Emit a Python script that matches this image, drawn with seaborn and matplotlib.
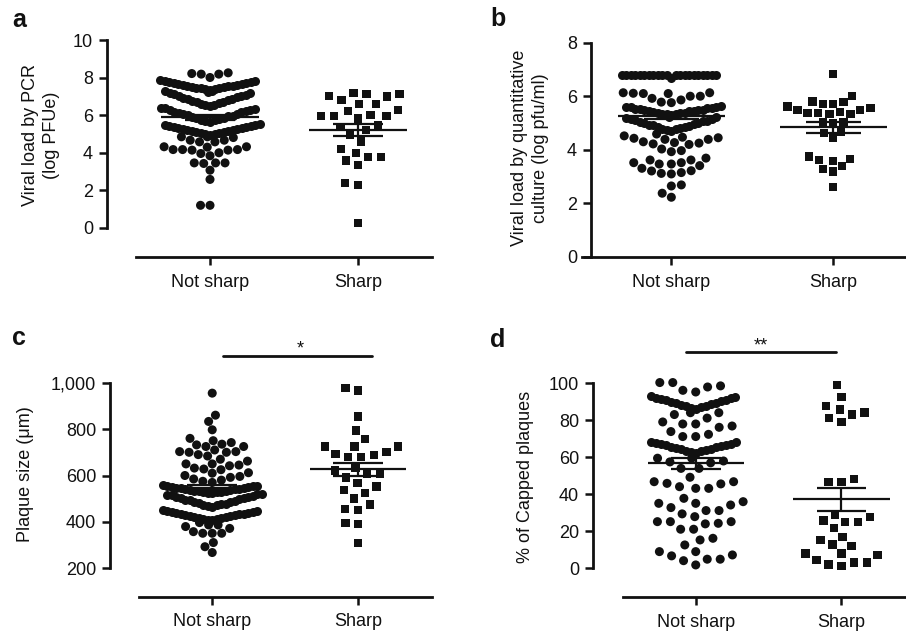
import numpy as np
import pandas as pd
import matplotlib
matplotlib.use("Agg")
import matplotlib.pyplot as plt
import seaborn as sns
from matplotlib.ticker import FuncFormatter

sns.set_theme(style="ticks")
plt.rcParams["font.family"] = ["Liberation Sans", "DejaVu Sans"]

categories = ["Not sharp", "Sharp"]

# ---------------- panel a : viral load by PCR ----------------
a_ns_band1 = [7.37, 7.39, 7.41, 7.43, 7.45, 7.47, 7.49, 7.51, 7.54, 7.56, 7.58,
              7.61, 7.63, 7.65, 7.68, 7.70, 7.73, 7.75, 7.78, 7.81, 7.84, 7.87]
a_ns_band2 = [6.48, 6.52, 6.56, 6.60, 6.64, 6.68, 6.72, 6.76, 6.80, 6.84, 6.88,
              6.92, 6.96, 7.00, 7.04, 7.08, 7.12, 7.16, 7.20, 7.24, 7.27, 7.30]
a_ns_band3 = [5.65, 5.69, 5.72, 5.76, 5.79, 5.83, 5.86, 5.90, 5.94, 5.97, 6.01,
              6.04, 6.08, 6.12, 6.15, 6.19, 6.22, 6.26, 6.30, 6.33, 6.37, 6.40]
a_ns_band4 = [4.95, 4.98, 5.00, 5.03, 5.06, 5.08, 5.11, 5.14, 5.16, 5.19, 5.22,
              5.24, 5.27, 5.30, 5.33, 5.35, 5.38, 5.41, 5.44, 5.46, 5.49, 5.52]
a_ns_rest = [8.26, 8.19, 8.01, 8.19, 8.22,
             4.85, 4.81, 4.67, 4.58, 4.58, 4.67, 4.85,
             4.32, 4.30, 4.32, 4.17, 4.14, 3.96, 3.84, 4.00, 4.14, 4.17, 4.17,
             3.46, 3.43, 3.46, 3.46,
             3.07, 2.58, 1.20, 1.20]
a_sharp = [7.13, 7.02, 6.81, 6.60, 6.60, 6.99, 7.13, 7.20,
           6.24, 5.96, 5.96, 5.83, 5.96, 6.01, 6.28,
           5.39, 5.45, 5.21, 4.95, 4.60,
           4.00, 3.76, 3.35, 3.58, 3.76, 4.19,
           2.38, 2.29, 0.25]
a_mean = [5.88, 5.20]
a_sem = [0.12, 0.32]

# ---------------- panel b : viral load by culture ----------------
b_ns_band1 = [6.67, 6.80, 6.80, 6.80, 6.80, 6.80, 6.80, 6.80, 6.80, 6.80, 6.80,
              6.80, 6.80, 6.80, 6.80, 6.80, 6.80, 6.80, 6.80, 6.80, 6.80, 6.80]
b_ns_band2 = [5.30, 5.32, 5.33, 5.35, 5.36, 5.38, 5.39, 5.41, 5.43, 5.44, 5.46,
              5.47, 5.49, 5.50, 5.52, 5.54, 5.55, 5.57, 5.58, 5.60, 5.61, 5.63]
b_ns_band3 = [4.71, 4.74, 4.76, 4.79, 4.81, 4.84, 4.86, 4.89, 4.91, 4.94, 4.96,
              4.99, 5.01, 5.04, 5.06, 5.09, 5.11, 5.14, 5.16, 5.19, 5.21, 5.24]
b_ns_rest = [6.13, 6.11, 6.10, 6.00, 5.86, 5.76, 5.78, 5.92, 6.00, 6.10, 6.13,
             4.59, 4.47, 4.43, 4.39, 4.30, 4.25, 4.20, 4.22, 4.27, 4.39, 4.45, 4.52,
             3.93, 3.97, 4.03,
             3.69, 3.62, 3.62,
             3.52, 3.47, 3.31, 3.22, 3.12, 3.10, 3.15, 3.21, 3.41, 3.47, 3.52,
             2.65, 2.69, 2.23, 2.38]
b_sharp = [6.83, 6.00, 5.80, 5.38, 5.72, 5.33, 5.55, 5.49, 5.49,
           5.62, 5.34, 5.72, 5.38, 5.78, 5.42,
           5.05, 4.99, 5.05, 4.62, 4.43, 4.68,
           3.65, 3.59, 3.75, 3.28, 3.19, 3.40, 3.62, 2.60]
b_mean = [5.26, 4.84]
b_sem = [0.11, 0.20]

# ---------------- panel c : plaque size ----------------
c_ns_band1 = [525, 526, 528, 529, 531, 532, 534, 535, 537, 539, 540,
              542, 543, 545, 547, 548, 550, 551, 553, 555, 556, 558]
c_ns_band2 = [466, 469, 471, 474, 477, 479, 482, 485, 487, 490, 493,
              495, 498, 501, 503, 506, 509, 511, 514, 517, 519, 522]
c_ns_band3 = [408, 410, 412, 414, 416, 418, 420, 422, 424, 426, 428,
              430, 432, 434, 436, 438, 440, 442, 444, 446, 449, 452]
c_ns_rest = [955, 860, 833, 797, 760,
             742, 732, 725, 703, 700, 700, 703, 710, 725, 735, 750,
             684, 662, 650, 642, 645, 650, 670, 690,
             632, 625, 610, 600, 592, 596, 612, 628,
             585, 580, 575, 570,
             397, 387, 380, 372, 358, 351, 351, 351, 387,
             311, 293, 268]
c_sharp = [967, 977, 854, 794, 756,
           725, 725, 693, 679, 679, 689, 700, 725,
           631, 606, 592, 606, 621,
           569, 537, 526, 552, 501,
           475, 451, 455, 396, 390, 309]
c_mean = [548, 627]
c_sem = [10, 28]

# ---------------- panel d : % capped plaques ----------------
d_ns_band1 = [86.3, 86.7, 87.1, 87.5, 87.9, 88.3, 88.7, 89.1, 89.5,
              89.9, 90.3, 90.7, 91.1, 91.5, 91.9, 92.3, 92.7, 93.1]
d_ns_band2 = [62.5, 62.9, 63.2, 63.6, 63.9, 64.3, 64.6, 65.0, 65.3,
              65.7, 66.0, 66.4, 66.7, 67.1, 67.4, 67.8, 68.1, 68.5]
d_ns_rest = [100.4, 98.6, 96.2, 95.3, 98.0, 100.4,
             84.1, 81.2, 79.1, 83.1, 84.1,
             78.0, 76.2, 72.4, 71.2, 71.2, 73.9, 76.9, 78.0,
             59.5, 57.5, 57.0, 54.0, 54.0, 59.5, 58.0,
             49.2, 46.8, 43.2, 45.6, 44.1, 45.9, 43.2, 46.8,
             35.1, 34.2, 31.2, 36.0, 37.8, 29.4, 31.2, 32.8, 35.1,
             25.2, 25.2, 24.3, 21.1, 21.1, 24.0, 25.2, 27.9,
             15.3, 16.2, 12.6,
             7.2, 4.9, 9.0, 9.0, 1.8, 4.1, 4.9, 6.7]
d_sharp = [98.9, 92.6, 87.7, 85.9, 84.2, 83.1, 79.1, 81.2,
           46.7, 46.7, 48.1,
           27.7, 25.0, 21.8, 25.0, 25.9, 29.0,
           16.9, 12.8, 12.1, 15.1,
           7.9, 4.3, 3.1, 1.2, 2.0, 3.1, 7.0, 7.9]
d_mean = [56.8, 37.3]
d_sem = [3.0, 6.2]

a_ticks = [0, 2, 4, 6, 8, 10]
b_ticks = [0, 2, 4, 6, 8]
c_ticks = [200, 400, 600, 800, 1000]
d_ticks = [0, 20, 40, 60, 80, 100]

a_label = "Viral load by PCR\n(log PFUe)"
b_label = "Viral load by quantitative\nculture (log pfu/ml)"
c_label = "Plaque size (\u03bcm)"
d_label = "% of Capped plaques"

W, H = 906, 634
fig = plt.figure(figsize=(W / 100, H / 100), dpi=100)
INK = "#111111"
FS = 13
band_colls = []


def add_axes(left, right, top, bottom):
    return fig.add_axes([left / W, 1 - bottom / H, (right - left) / W, (bottom - top) / H])


def panel(ax, bands, ns_rest, sh, means, sems, xlim, ylim, ybounds, xbounds,
          yticks, ns_pad=0.0, sh_pad=2.9, fmt=None):
    # dense rows of the "Not sharp" group, each laid out as its own swarm
    for vals in bands:
        n0 = len(ax.collections)
        sns.swarmplot(x=["Not sharp"] * len(vals), y=vals, order=categories,
                      marker="o", color=INK, size=6.5, linewidth=0, ax=ax,
                      warn_thresh=1)
        band_colls.extend(c for c in ax.collections[n0:] if "draw" in c.__dict__)
    # remaining "Not sharp" points
    sns.swarmplot(x=["Not sharp"] * len(ns_rest), y=ns_rest, order=categories,
                  marker="o", color=INK, size=6.5, linewidth=ns_pad,
                  edgecolor="none", ax=ax, warn_thresh=1)
    # "Sharp" group (squares, spaced like the original)
    sns.swarmplot(x=["Sharp"] * len(sh), y=sh, order=categories, marker="s",
                  color=INK, size=6.0, linewidth=sh_pad, edgecolor="none", ax=ax,
                  warn_thresh=1)
    for i, (m, s) in enumerate(zip(means, sems)):
        ax.hlines(m, i - 0.33, i + 0.33, color=INK, lw=1.6, zorder=5)
        ax.hlines([m - s, m + s], i - 0.17, i + 0.17, color=INK, lw=1.6, zorder=5)
        ax.vlines(i, m - s, m + s, color=INK, lw=1.6, zorder=5)
    ax.set_xlim(*xlim)
    ax.set_ylim(*ylim)
    ax.set_xlabel("")
    ax.set_ylabel("")
    for side in ["top", "right"]:
        ax.spines[side].set_visible(False)
    ax.spines["left"].set_bounds(*ybounds)
    ax.spines["bottom"].set_bounds(*xbounds)
    for side in ["left", "bottom"]:
        ax.spines[side].set_linewidth(2.0)
        ax.spines[side].set_color(INK)
    ax.set_yticks(yticks)
    if fmt is not None:
        ax.yaxis.set_major_formatter(fmt)
    ax.set_xticks([0, 1])
    ax.set_xticklabels(categories)
    ax.tick_params(axis="y", direction="out", length=6, width=1.8, pad=4,
                   labelsize=FS, colors=INK)
    ax.tick_params(axis="x", direction="out", length=6, width=1.8, pad=6,
                   labelsize=FS, colors=INK)
    ax.set_facecolor("none")


# panel a
ax_a = add_axes(107, 432, 36.4, 257.3)
panel(ax_a, [a_ns_band1, a_ns_band2, a_ns_band3, a_ns_band4], a_ns_rest, a_sharp,
      a_mean, a_sem, (-0.696, 1.5), (-1.57, 10.2), (0, 10), (-0.5, 1.5), a_ticks)

# panel b
ax_b = add_axes(591, 906, 38.6, 257.0)
panel(ax_b, [b_ns_band1, b_ns_band2, b_ns_band3], b_ns_rest, b_sharp,
      b_mean, b_sem, (-0.496, 1.449), (0, 8.15), (0, 8), (-0.55, 1.449), b_ticks,
      ns_pad=0.4, sh_pad=1.2)

# panel c
ax_c = add_axes(110, 431.7, 336.3, 596.7)
panel(ax_c, [c_ns_band1, c_ns_band2, c_ns_band3], c_ns_rest, c_sharp,
      c_mean, c_sem, (-0.70, 1.503), (77.6, 1200), (200, 1000), (-0.5, 1.503),
      c_ticks, fmt=FuncFormatter(lambda v, p: f"{int(v):,}"))
ax_c.plot([0.075, 1.096], [1116, 1116], color=INK, lw=2, clip_on=False)
ax_c.text(0.60, 1128, "*", ha="center", va="baseline", fontsize=FS, color=INK)

# panel d
ax_d = add_axes(593, 906, 335.2, 597.3)
panel(ax_d, [d_ns_band1, d_ns_band2], d_ns_rest, d_sharp,
      d_mean, d_sem, (-0.705, 1.443), (-15.7, 126), (0, 100), (-0.5, 1.443),
      d_ticks, ns_pad=2.4)
ax_d.plot([-0.07, 0.96], [116.8, 116.8], color=INK, lw=2, clip_on=False)
ax_d.text(0.448, 117.5, "**", ha="center", va="baseline", fontsize=FS, color=INK)

# y-axis titles
for (x, y, txt) in [(41, 135, a_label), (530, 148, b_label),
                    (25, 474, c_label), (525, 477, d_label)]:
    fig.text(x / W, 1 - y / H, txt, rotation=90, ha="center", va="center",
             multialignment="center", fontsize=FS, color=INK, linespacing=1.3)

# panel letters
for (x, y, letter) in [(12, 27, "a"), (490, 26, "b"), (12, 345, "c"), (490, 347, "d")]:
    fig.text(x / W, 1 - y / H, letter, ha="left", va="baseline", fontsize=18,
             fontweight="bold", color=INK)

# Lay out the dense rows GraphPad-style: seaborn's beeswarm is run once in a
# horizontally stretched / vertically squashed view so that points in one row
# pack tightly side by side, then those positions are kept.
stretch = {ax_a: 2.1, ax_b: 2.1, ax_c: 2.1, ax_d: 1.9}
saved = {}
for ax, sx in stretch.items():
    x0, x1 = ax.get_xlim()
    y0, y1 = ax.get_ylim()
    saved[ax] = (x0, x1, y0, y1)
    ax.set_xlim(x0, x0 + (x1 - x0) / sx)
    ax.set_ylim(y0, y0 + (y1 - y0) * 16 / 9)
fig.canvas.draw()
for coll in band_colls:
    del coll.draw
for ax, (x0, x1, y0, y1) in saved.items():
    ax.set_xlim(x0, x1)
    ax.set_ylim(y0, y1)

fig.savefig("out.png", dpi=100, facecolor="white")
